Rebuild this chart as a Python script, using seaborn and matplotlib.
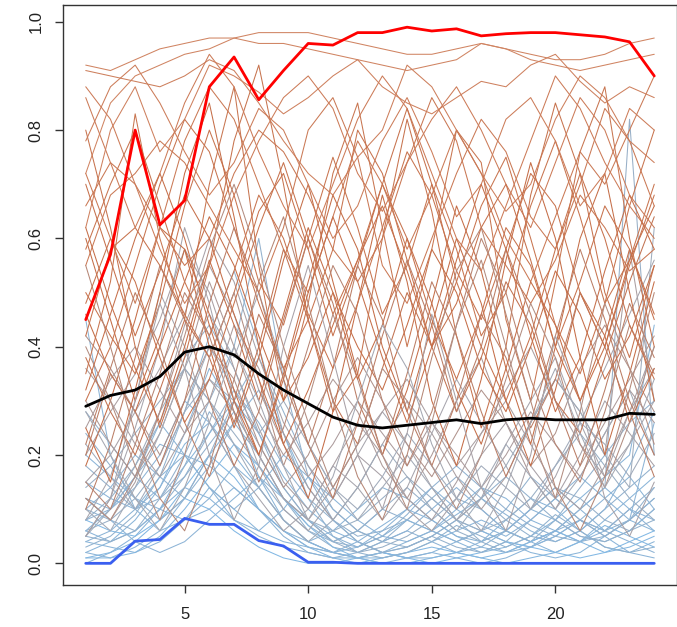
import numpy as np
import pandas as pd
import seaborn as sns
import matplotlib.pyplot as plt
from matplotlib.colors import LinearSegmentedColormap

hours = list(range(1, 25))

# highlighted series
red_line = [0.45, 0.57, 0.80, 0.625, 0.67, 0.88, 0.935, 0.856, 0.91, 0.96, 0.957, 0.98,
            0.98, 0.99, 0.983, 0.987, 0.974, 0.978, 0.98, 0.98, 0.976, 0.972, 0.963, 0.90]
black_line = [0.29, 0.31, 0.32, 0.345, 0.39, 0.40, 0.385, 0.35, 0.32, 0.295, 0.27, 0.255,
              0.25, 0.255, 0.26, 0.265, 0.258, 0.265, 0.268, 0.265, 0.265, 0.265, 0.277, 0.275]
blue_line = [0.0, 0.0, 0.041, 0.044, 0.083, 0.072, 0.072, 0.042, 0.032, 0.002, 0.002, 0.0,
             0.0, 0.0, 0.0, 0.0, 0.0, 0.0, 0.0, 0.0, 0.0, 0.0, 0.0, 0.0]

# background series (brown / high)
brown_lines = [
    [0.92,0.91,0.93,0.95,0.96,0.97,0.97,0.96,0.96,0.95,0.94,0.93,0.92,0.91,0.92,0.93,0.96,0.95,0.94,0.93,0.93,0.94,0.96,0.97],
    [0.72,0.85,0.90,0.92,0.94,0.95,0.97,0.98,0.98,0.98,0.97,0.96,0.95,0.94,0.94,0.95,0.96,0.95,0.93,0.92,0.91,0.92,0.93,0.94],
    [0.91,0.90,0.89,0.88,0.90,0.93,0.91,0.85,0.78,0.72,0.68,0.75,0.80,0.92,0.88,0.80,0.72,0.65,0.70,0.82,0.90,0.86,0.78,0.74],
    [0.62,0.80,0.88,0.76,0.82,0.92,0.90,0.87,0.83,0.86,0.90,0.93,0.88,0.85,0.83,0.86,0.89,0.88,0.92,0.94,0.89,0.85,0.88,0.86],
    [0.35,0.52,0.83,0.60,0.45,0.70,0.88,0.55,0.30,0.48,0.72,0.85,0.62,0.40,0.58,0.80,0.74,0.45,0.30,0.52,0.76,0.88,0.60,0.40],
    [0.80,0.62,0.40,0.25,0.38,0.55,0.78,0.92,0.70,0.45,0.28,0.35,0.60,0.82,0.65,0.42,0.25,0.40,0.68,0.85,0.72,0.50,0.38,0.55],
    [0.55,0.68,0.72,0.78,0.74,0.66,0.58,0.50,0.62,0.80,0.86,0.75,0.55,0.48,0.60,0.72,0.82,0.76,0.64,0.58,0.70,0.84,0.78,0.66],
    [0.18,0.30,0.45,0.62,0.58,0.40,0.25,0.38,0.56,0.70,0.52,0.35,0.20,0.32,0.48,0.66,0.54,0.36,0.22,0.40,0.60,0.72,0.50,0.30],
    [0.50,0.42,0.35,0.48,0.66,0.80,0.68,0.52,0.44,0.60,0.75,0.62,0.46,0.55,0.70,0.58,0.42,0.50,0.66,0.78,0.64,0.48,0.56,0.70],
    [0.66,0.74,0.70,0.62,0.55,0.60,0.72,0.80,0.76,0.68,0.58,0.52,0.60,0.74,0.86,0.78,0.62,0.55,0.48,0.56,0.68,0.62,0.54,0.58],
    [0.25,0.15,0.32,0.50,0.72,0.85,0.64,0.40,0.22,0.12,0.28,0.48,0.68,0.52,0.30,0.18,0.34,0.56,0.74,0.60,0.38,0.20,0.35,0.52],
    [0.42,0.58,0.62,0.55,0.46,0.38,0.50,0.65,0.72,0.58,0.42,0.55,0.70,0.60,0.45,0.34,0.46,0.62,0.55,0.40,0.52,0.66,0.58,0.45],
    [0.88,0.82,0.70,0.58,0.48,0.55,0.68,0.78,0.86,0.90,0.84,0.72,0.65,0.74,0.82,0.88,0.80,0.70,0.62,0.74,0.86,0.80,0.68,0.62],
    [0.60,0.45,0.30,0.42,0.58,0.46,0.32,0.20,0.35,0.52,0.68,0.58,0.40,0.28,0.44,0.60,0.48,0.30,0.18,0.32,0.50,0.42,0.26,0.36],
    [0.30,0.40,0.55,0.70,0.82,0.76,0.62,0.48,0.36,0.45,0.58,0.80,0.72,0.56,0.40,0.52,0.66,0.75,0.60,0.44,0.35,0.48,0.66,0.80],
    [0.72,0.60,0.48,0.62,0.78,0.88,0.82,0.70,0.58,0.50,0.64,0.78,0.70,0.58,0.68,0.80,0.72,0.60,0.52,0.64,0.76,0.70,0.80,0.90],
    [0.10,0.22,0.38,0.55,0.45,0.30,0.18,0.28,0.45,0.60,0.48,0.30,0.20,0.35,0.52,0.42,0.28,0.16,0.26,0.42,0.58,0.45,0.30,0.20],
    [0.46,0.35,0.28,0.40,0.52,0.64,0.55,0.42,0.30,0.38,0.50,0.40,0.32,0.44,0.58,0.50,0.36,0.28,0.40,0.54,0.46,0.34,0.42,0.55],
    [0.78,0.88,0.92,0.85,0.76,0.68,0.74,0.84,0.80,0.70,0.60,0.66,0.78,0.86,0.76,0.64,0.70,0.82,0.86,0.78,0.66,0.72,0.84,0.80],
    [0.20,0.35,0.28,0.18,0.30,0.48,0.62,0.50,0.34,0.22,0.36,0.55,0.45,0.28,0.18,0.30,0.46,0.38,0.25,0.34,0.50,0.40,0.28,0.16],
    [0.58,0.70,0.80,0.66,0.52,0.42,0.54,0.68,0.60,0.46,0.36,0.48,0.62,0.76,0.68,0.54,0.45,0.58,0.72,0.66,0.50,0.40,0.55,0.68],
    [0.38,0.28,0.20,0.32,0.45,0.38,0.26,0.40,0.58,0.45,0.30,0.22,0.36,0.50,0.40,0.28,0.38,0.52,0.44,0.30,0.24,0.38,0.52,0.64],
    [0.86,0.74,0.62,0.72,0.85,0.94,0.88,0.76,0.66,0.58,0.70,0.82,0.90,0.84,0.72,0.60,0.54,0.66,0.78,0.90,0.84,0.74,0.66,0.60],
    [0.15,0.10,0.22,0.35,0.50,0.42,0.28,0.15,0.25,0.40,0.55,0.46,0.30,0.18,0.28,0.44,0.60,0.50,0.34,0.22,0.15,0.28,0.44,0.35],
    [0.05,0.12,0.30,0.48,0.36,0.20,0.08,0.18,0.40,0.55,0.38,0.20,0.10,0.24,0.46,0.30,0.14,0.06,0.20,0.42,0.30,0.12,0.05,0.15],
    [0.40,0.30,0.18,0.08,0.20,0.38,0.50,0.34,0.18,0.30,0.46,0.34,0.20,0.10,0.26,0.44,0.56,0.40,0.24,0.12,0.28,0.48,0.36,0.22],
    [0.62,0.48,0.36,0.26,0.40,0.56,0.44,0.30,0.46,0.62,0.50,0.34,0.44,0.60,0.48,0.32,0.22,0.36,0.52,0.44,0.30,0.40,0.56,0.66],
    [0.22,0.36,0.50,0.40,0.26,0.16,0.30,0.46,0.36,0.22,0.12,0.26,0.42,0.56,0.44,0.28,0.40,0.58,0.46,0.30,0.18,0.32,0.48,0.38],
    [0.55,0.40,0.24,0.12,0.06,0.18,0.34,0.52,0.64,0.48,0.30,0.16,0.08,0.20,0.38,0.54,0.62,0.46,0.30,0.14,0.06,0.16,0.32,0.50],
    [0.32,0.46,0.60,0.72,0.60,0.44,0.30,0.20,0.34,0.50,0.64,0.52,0.38,0.26,0.40,0.56,0.70,0.58,0.42,0.28,0.38,0.54,0.68,0.58],
    [0.12,0.08,0.16,0.28,0.42,0.58,0.70,0.56,0.40,0.26,0.14,0.22,0.36,0.30,0.18,0.10,0.20,0.34,0.48,0.38,0.22,0.14,0.26,0.40],
    [0.48,0.60,0.52,0.38,0.26,0.34,0.48,0.62,0.74,0.60,0.46,0.56,0.70,0.84,0.70,0.52,0.40,0.30,0.42,0.58,0.72,0.60,0.44,0.34],
    [0.70,0.56,0.42,0.54,0.68,0.60,0.46,0.34,0.22,0.32,0.44,0.56,0.66,0.54,0.40,0.48,0.62,0.70,0.56,0.40,0.30,0.42,0.58,0.46],
    [0.28,0.20,0.12,0.06,0.14,0.26,0.40,0.30,0.18,0.08,0.16,0.30,0.44,0.36,0.22,0.12,0.06,0.14,0.26,0.36,0.24,0.14,0.22,0.34],
]

# background series (grey / middle)
grey_lines = [
    [0.20,0.28,0.35,0.45,0.58,0.50,0.36,0.25,0.15,0.10,0.18,0.26,0.20,0.12,0.08,0.15,0.24,0.30,0.22,0.14,0.10,0.18,0.28,0.36],
    [0.05,0.12,0.25,0.40,0.62,0.48,0.30,0.18,0.10,0.06,0.12,0.20,0.28,0.22,0.14,0.08,0.12,0.22,0.30,0.38,0.26,0.16,0.22,0.30],
    [0.30,0.22,0.16,0.24,0.36,0.52,0.40,0.28,0.20,0.26,0.34,0.28,0.18,0.12,0.20,0.30,0.38,0.26,0.16,0.10,0.18,0.26,0.34,0.42],
    [0.12,0.08,0.15,0.28,0.44,0.55,0.46,0.32,0.22,0.14,0.08,0.14,0.22,0.30,0.24,0.16,0.10,0.16,0.26,0.34,0.28,0.20,0.58,0.30],
    [0.42,0.36,0.28,0.20,0.30,0.40,0.34,0.22,0.14,0.20,0.30,0.38,0.30,0.22,0.16,0.24,0.32,0.26,0.18,0.24,0.36,0.44,0.36,0.28],
    [0.08,0.16,0.30,0.50,0.40,0.26,0.18,0.12,0.06,0.10,0.18,0.14,0.08,0.14,0.24,0.34,0.26,0.18,0.10,0.16,0.26,0.36,0.46,0.56],
    [0.25,0.34,0.40,0.32,0.24,0.30,0.44,0.36,0.24,0.16,0.22,0.30,0.24,0.18,0.26,0.20,0.14,0.20,0.28,0.22,0.16,0.24,0.32,0.26],
    [0.15,0.20,0.28,0.36,0.46,0.60,0.52,0.38,0.26,0.18,0.12,0.20,0.16,0.10,0.06,0.12,0.20,0.26,0.18,0.12,0.20,0.30,0.24,0.18],
    [0.36,0.30,0.22,0.16,0.24,0.34,0.28,0.20,0.12,0.08,0.14,0.22,0.28,0.34,0.26,0.18,0.24,0.32,0.40,0.30,0.22,0.16,0.28,0.40],
    [0.10,0.06,0.14,0.24,0.36,0.46,0.38,0.50,0.36,0.22,0.14,0.08,0.14,0.20,0.14,0.08,0.14,0.22,0.16,0.10,0.16,0.24,0.32,0.20],
    [0.05,0.10,0.18,0.28,0.36,0.30,0.22,0.14,0.08,0.04,0.08,0.14,0.22,0.16,0.10,0.06,0.12,0.18,0.26,0.34,0.28,0.20,0.14,0.62],
    [0.22,0.16,0.10,0.18,0.28,0.40,0.32,0.24,0.30,0.22,0.14,0.10,0.16,0.24,0.18,0.12,0.18,0.14,0.10,0.18,0.26,0.22,0.16,0.24],
]

# background series (blue / low)
blue_lines = [
    [0.12,0.10,0.14,0.20,0.30,0.26,0.18,0.10,0.05,0.02,0.01,0.02,0.04,0.06,0.04,0.02,0.03,0.06,0.10,0.14,0.10,0.06,0.08,0.12],
    [0.45,0.20,0.10,0.06,0.08,0.12,0.18,0.14,0.08,0.04,0.02,0.01,0.02,0.03,0.05,0.08,0.06,0.04,0.03,0.05,0.08,0.12,0.16,0.10],
    [0.06,0.08,0.12,0.18,0.28,0.34,0.30,0.22,0.14,0.08,0.04,0.02,0.03,0.05,0.08,0.12,0.10,0.06,0.04,0.06,0.10,0.14,0.82,0.20],
    [0.02,0.04,0.08,0.14,0.22,0.26,0.20,0.14,0.08,0.04,0.02,0.01,0.01,0.02,0.04,0.06,0.08,0.06,0.04,0.02,0.04,0.08,0.12,0.16],
    [0.10,0.08,0.06,0.10,0.16,0.24,0.32,0.26,0.18,0.12,0.08,0.05,0.06,0.08,0.12,0.16,0.12,0.08,0.05,0.04,0.06,0.10,0.14,0.18],
    [0.08,0.12,0.18,0.26,0.38,0.44,0.36,0.24,0.14,0.08,0.04,0.06,0.10,0.14,0.10,0.06,0.04,0.06,0.10,0.14,0.12,0.08,0.06,0.10],
    [0.04,0.06,0.10,0.16,0.20,0.18,0.14,0.10,0.06,0.04,0.06,0.10,0.14,0.12,0.08,0.05,0.04,0.06,0.10,0.08,0.05,0.04,0.06,0.10],
    [0.00,0.02,0.05,0.10,0.18,0.24,0.30,0.24,0.16,0.10,0.06,0.04,0.02,0.01,0.02,0.04,0.06,0.04,0.02,0.01,0.02,0.05,0.08,0.06],
    [0.18,0.14,0.10,0.12,0.16,0.22,0.28,0.20,0.12,0.06,0.03,0.02,0.04,0.08,0.12,0.08,0.04,0.02,0.04,0.08,0.14,0.20,0.26,0.30],
    [0.06,0.04,0.06,0.10,0.14,0.12,0.08,0.06,0.10,0.16,0.12,0.08,0.05,0.04,0.06,0.10,0.14,0.12,0.08,0.06,0.04,0.06,0.10,0.08],
    [0.28,0.22,0.16,0.12,0.18,0.28,0.22,0.16,0.10,0.06,0.04,0.06,0.10,0.08,0.06,0.04,0.06,0.10,0.16,0.12,0.08,0.06,0.10,0.14],
    [0.02,0.01,0.03,0.06,0.12,0.20,0.26,0.32,0.24,0.14,0.08,0.04,0.02,0.01,0.01,0.02,0.04,0.08,0.12,0.10,0.06,0.03,0.02,0.04],
    [0.14,0.18,0.24,0.30,0.36,0.30,0.24,0.18,0.12,0.08,0.06,0.08,0.12,0.16,0.12,0.08,0.06,0.08,0.12,0.18,0.24,0.18,0.12,0.08],
    [0.04,0.03,0.02,0.04,0.08,0.14,0.10,0.06,0.04,0.03,0.02,0.03,0.05,0.08,0.06,0.04,0.02,0.03,0.05,0.08,0.12,0.16,0.20,0.44],
    [0.08,0.10,0.16,0.22,0.20,0.14,0.10,0.14,0.20,0.16,0.10,0.06,0.04,0.06,0.10,0.14,0.10,0.06,0.04,0.06,0.08,0.06,0.04,0.02],
    [0.01,0.02,0.04,0.08,0.14,0.20,0.16,0.10,0.06,0.03,0.01,0.00,0.01,0.02,0.03,0.02,0.01,0.02,0.04,0.06,0.04,0.02,0.03,0.05],
    [0.08,0.06,0.05,0.08,0.12,0.10,0.06,0.03,0.01,0.00,0.00,0.01,0.02,0.01,0.00,0.01,0.02,0.04,0.03,0.02,0.01,0.02,0.04,0.06],
    [0.15,0.12,0.10,0.14,0.24,0.36,0.28,0.16,0.08,0.04,0.02,0.01,0.00,0.01,0.02,0.01,0.00,0.01,0.03,0.05,0.08,0.05,0.02,0.01],
    [0.03,0.05,0.09,0.16,0.28,0.42,0.54,0.40,0.24,0.12,0.05,0.02,0.01,0.02,0.04,0.07,0.05,0.03,0.05,0.09,0.06,0.03,0.02,0.03],
    [0.20,0.16,0.12,0.10,0.08,0.10,0.14,0.10,0.06,0.03,0.02,0.04,0.07,0.10,0.08,0.05,0.03,0.02,0.03,0.06,0.10,0.14,0.10,0.06],
    [0.06,0.10,0.16,0.26,0.20,0.14,0.08,0.05,0.03,0.02,0.01,0.01,0.02,0.04,0.06,0.09,0.12,0.09,0.06,0.04,0.06,0.10,0.18,0.28],
    [0.10,0.14,0.20,0.16,0.12,0.18,0.26,0.20,0.12,0.07,0.04,0.03,0.05,0.09,0.14,0.18,0.14,0.10,0.07,0.05,0.04,0.05,0.08,0.12],
    [0.01,0.01,0.02,0.05,0.10,0.16,0.22,0.18,0.12,0.07,0.03,0.01,0.00,0.00,0.01,0.02,0.01,0.00,0.01,0.02,0.04,0.07,0.05,0.03],
    [0.24,0.18,0.12,0.08,0.12,0.20,0.30,0.38,0.28,0.18,0.10,0.06,0.04,0.03,0.05,0.08,0.12,0.16,0.12,0.08,0.05,0.04,0.06,0.08],
    [0.05,0.04,0.06,0.12,0.20,0.30,0.40,0.60,0.34,0.16,0.08,0.04,0.02,0.03,0.05,0.03,0.02,0.04,0.08,0.12,0.08,0.05,0.08,0.14],
    [0.12,0.08,0.04,0.02,0.04,0.08,0.12,0.16,0.12,0.08,0.05,0.03,0.06,0.10,0.14,0.10,0.07,0.05,0.08,0.12,0.16,0.12,0.08,0.26],
]

# long table for seaborn
rows = []
all_lines = blue_lines + grey_lines + brown_lines
for i, vals in enumerate(all_lines):
    for h, v in zip(hours, vals):
        rows.append({"series": i, "hour": h, "value": v})
df = pd.DataFrame(rows)

# colour each background line by its mean (blue -> grey -> brown)
ramp = LinearSegmentedColormap.from_list(
    "ramp", [(0.0, "#82B8E4"), (0.2, "#A4AAB6"), (0.4, "#C46C46"), (1.0, "#D08462")])
means = df.groupby("series")["value"].mean()
lo, hi = means.min(), means.max()
palette = {s: ramp((m - lo) / (hi - lo)) for s, m in means.items()}

sns.set_style("ticks")
plt.rcParams["font.family"] = ["Liberation Sans", "DejaVu Sans"]

fig = plt.figure(figsize=(6.77, 6.27), dpi=100)
ax = fig.add_axes([63 / 677, 42 / 627, 614 / 677, 580 / 627])

sns.lineplot(data=df, x="hour", y="value", hue="series", palette=palette,
             estimator=None, legend=False, linewidth=0.75, ax=ax)

sns.lineplot(x=hours, y=blue_line, color="#3A5FF0", linewidth=2, ax=ax)
sns.lineplot(x=hours, y=black_line, color="black", linewidth=2, ax=ax)
sns.lineplot(x=hours, y=red_line, color="#FF0000", linewidth=2, ax=ax)

ax.set_xlim(0.08, 24.92)
ax.set_ylim(-0.04, 1.031)
ax.set_xticks([5, 10, 15, 20])
ax.set_yticks([0.0, 0.2, 0.4, 0.6, 0.8, 1.0])
ax.set_yticklabels(["0.0", "0.2", "0.4", "0.6", "0.8", "1.0"], rotation=90, va="center")
ax.set_xlabel("")
ax.set_ylabel("")
ax.tick_params(axis="both", labelsize=12, length=6, width=1, color="#333333",
               labelcolor="#222222")
ax.tick_params(axis="x", pad=10)
ax.tick_params(axis="y", pad=8)
for sp in ax.spines.values():
    sp.set_color("#333333")
    sp.set_linewidth(1)

fig.savefig("out.png", dpi=100)
